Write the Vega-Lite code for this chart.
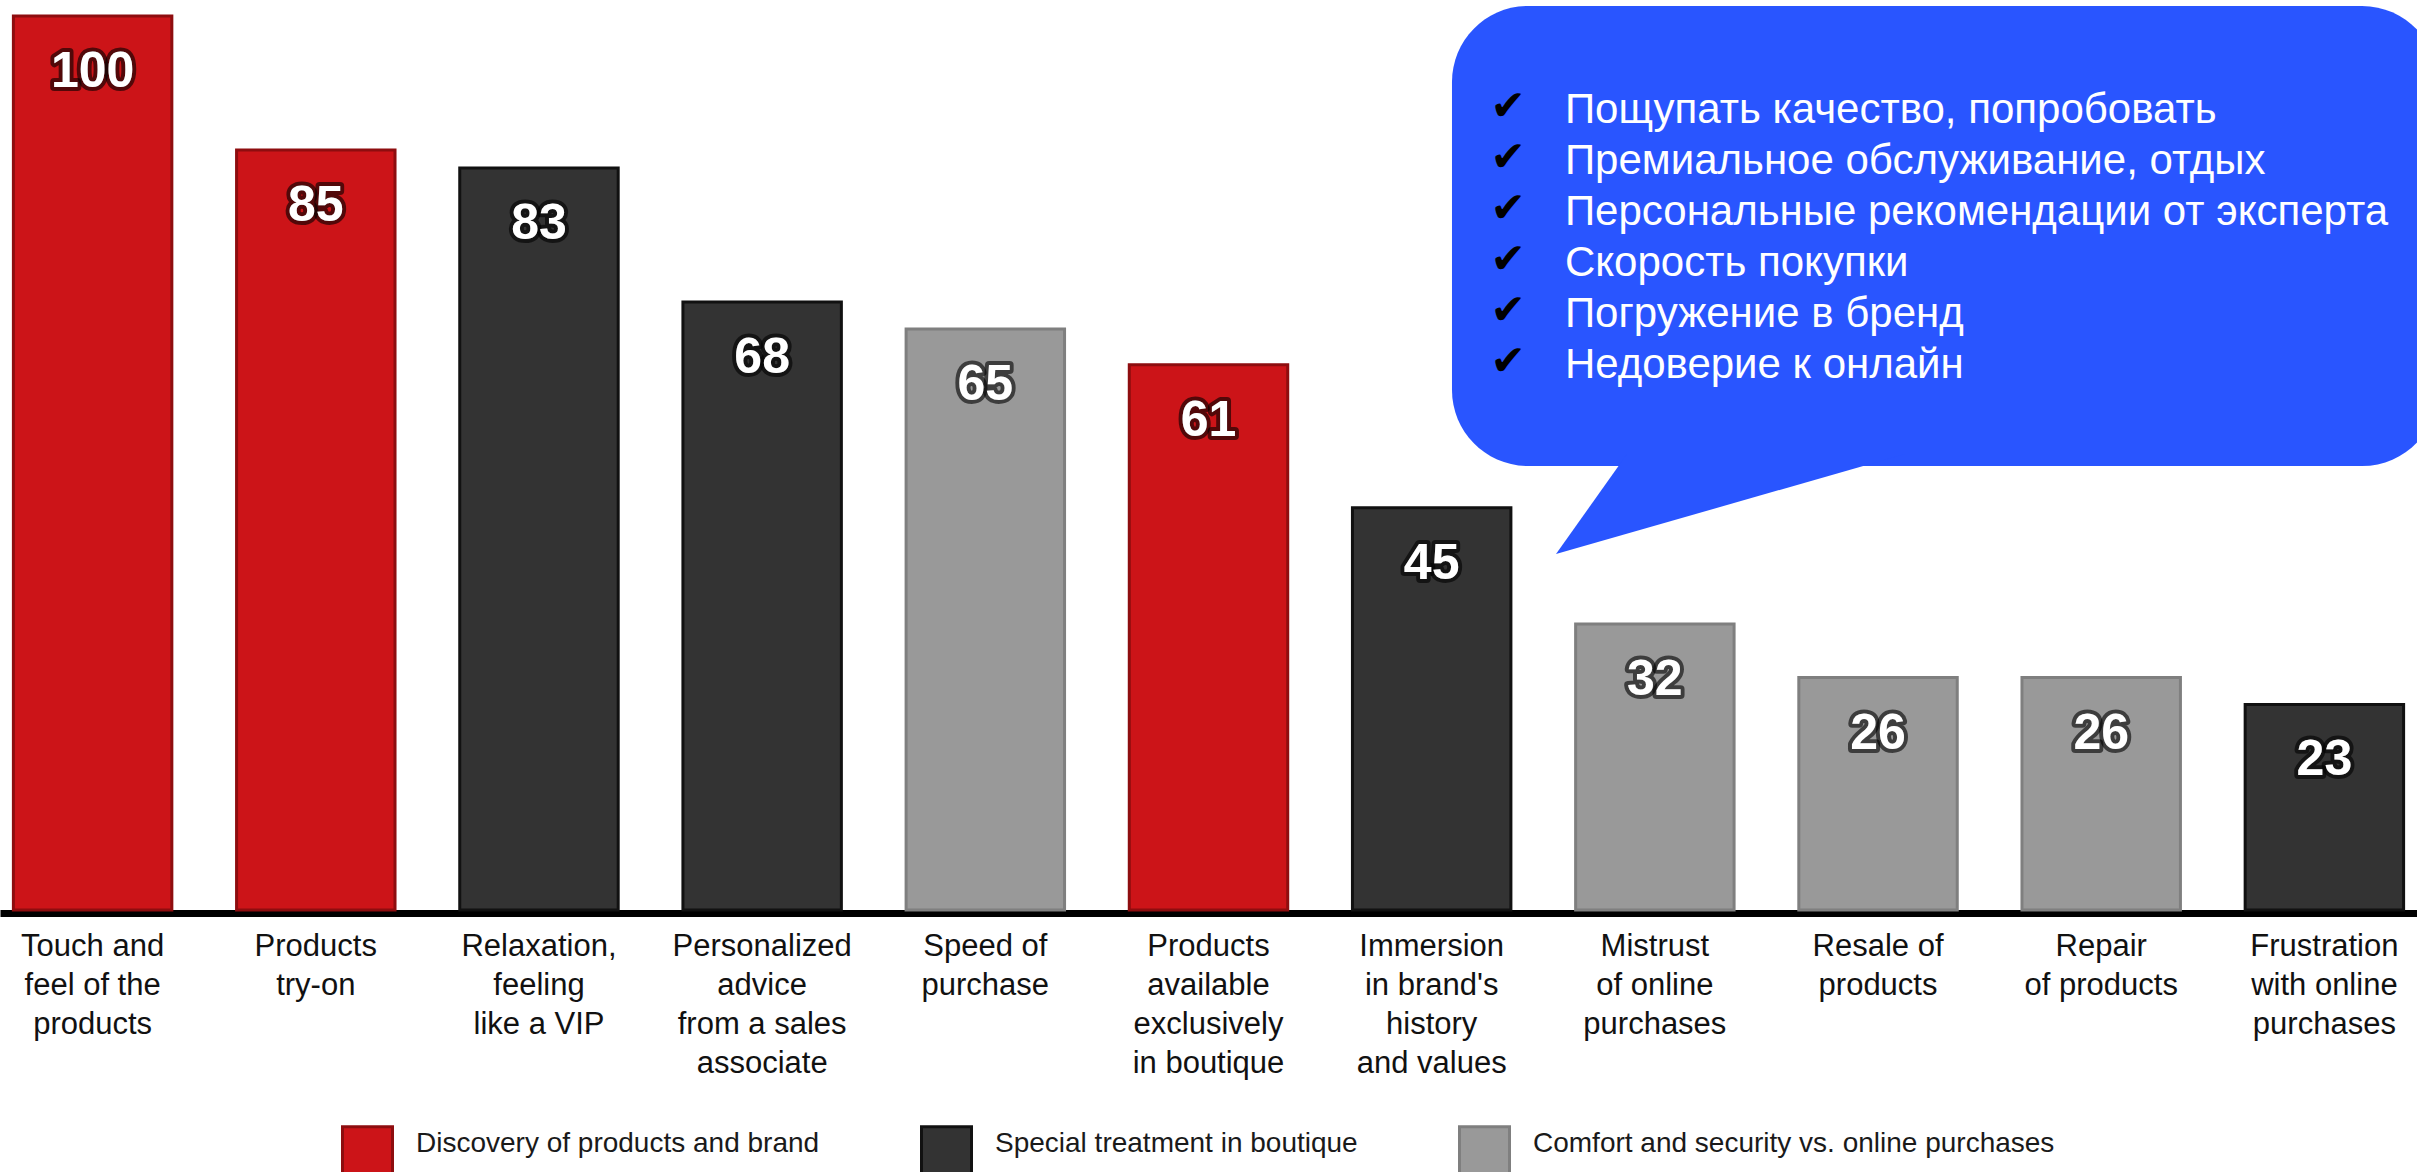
{
  "$schema": "https://vega.github.io/schema/vega-lite/v6.json",
  "width": 2417,
  "height": 894,
  "autosize": "none",
  "padding": {"left": 0, "top": 16, "right": 0, "bottom": 262},
  "background": "white",
  "config": {
    "view": {"stroke": null},
    "legend": {
      "orient": "none",
      "legendX": 341,
      "legendY": 1109,
      "direction": "horizontal",
      "title": null,
      "padding": 0,
      "columnPadding": 95,
      "symbolType": "square",
      "symbolSize": 2500,
      "symbolStrokeWidth": 3,
      "symbolOpacity": 1,
      "labelFont": "Liberation Sans",
      "labelFontSize": 28,
      "labelColor": "#1a1a1a",
      "labelOffset": 22,
      "labelBaseline": "alphabetic",
      "labelLimit": 800
    }
  },
  "datasets": {
    "reasons": [
      {"label": "Touch and\nfeel of the\nproducts", "score": 100, "group": "Discovery of products and brand"},
      {"label": "Products\ntry-on", "score": 85, "group": "Discovery of products and brand"},
      {"label": "Relaxation,\nfeeling\nlike a VIP", "score": 83, "group": "Special treatment in boutique"},
      {"label": "Personalized\nadvice\nfrom a sales\nassociate", "score": 68, "group": "Special treatment in boutique"},
      {"label": "Speed of\npurchase", "score": 65, "group": "Comfort and security vs. online purchases"},
      {"label": "Products\navailable\nexclusively\nin boutique", "score": 61, "group": "Discovery of products and brand"},
      {"label": "Immersion\nin brand's\nhistory\nand values", "score": 45, "group": "Special treatment in boutique"},
      {"label": "Mistrust\nof online\npurchases", "score": 32, "group": "Comfort and security vs. online purchases"},
      {"label": "Resale of\nproducts", "score": 26, "group": "Comfort and security vs. online purchases"},
      {"label": "Repair\nof products", "score": 26, "group": "Comfort and security vs. online purchases"},
      {"label": "Frustration\nwith online\npurchases", "score": 23, "group": "Special treatment in boutique"}
    ],
    "takeaways": [
      {"n": 1, "item": "Пощупать качество, попробовать"},
      {"n": 2, "item": "Премиальное обслуживание, отдых"},
      {"n": 3, "item": "Персональные рекомендации от эксперта"},
      {"n": 4, "item": "Скорость покупки"},
      {"n": 5, "item": "Погружение в бренд"},
      {"n": 6, "item": "Недоверие к онлайн"}
    ]
  },
  "layer": [
    {
      "data": {"name": "reasons"},
      "encoding": {
        "x": {
          "field": "label",
          "type": "nominal",
          "sort": null,
          "scale": {"paddingInner": 0.29, "paddingOuter": 0.06},
          "axis": {
            "title": null,
            "labelExpr": "split(datum.label, '\\n')",
            "labelAngle": 0,
            "labelFont": "Liberation Sans",
            "labelFontSize": 31,
            "labelColor": "#111111",
            "labelLineHeight": 39,
            "labelBaseline": "top",
            "labelPadding": 18,
            "labelLimit": 400,
            "labelOverlap": false,
            "ticks": false,
            "tickSize": 0,
            "domain": true,
            "domainColor": "#000000",
            "domainWidth": 7,
            "offset": 3,
            "grid": false
          }
        },
        "y": {
          "field": "score",
          "type": "quantitative",
          "scale": {"domain": [0, 100], "nice": false},
          "axis": null
        }
      },
      "layer": [
        {
          "mark": {"type": "bar", "strokeWidth": 3},
          "encoding": {
            "fill": {
              "field": "group",
              "type": "nominal",
              "scale": {
                "domain": ["Discovery of products and brand", "Special treatment in boutique", "Comfort and security vs. online purchases"],
                "range": ["#cc1418", "#333333", "#999999"]
              }
            },
            "stroke": {
              "field": "group",
              "type": "nominal",
              "scale": {
                "domain": ["Discovery of products and brand", "Special treatment in boutique", "Comfort and security vs. online purchases"],
                "range": ["#8e0d0f", "#111111", "#7f7f7f"]
              }
            }
          }
        },
        {
          "mark": {
            "type": "text",
            "font": "Liberation Sans",
            "fontWeight": "bold",
            "fontSize": 50,
            "align": "center",
            "baseline": "alphabetic",
            "dy": 71,
            "fill": "#ffffff",
            "stroke": "#000000",
            "strokeWidth": 8,
            "strokeOpacity": 0.6,
            "strokeJoin": "round"
          },
          "encoding": {"text": {"field": "score", "type": "quantitative"}}
        },
        {
          "mark": {
            "type": "text",
            "font": "Liberation Sans",
            "fontWeight": "bold",
            "fontSize": 50,
            "align": "center",
            "baseline": "alphabetic",
            "dy": 71,
            "fill": "#ffffff"
          },
          "encoding": {"text": {"field": "score", "type": "quantitative"}}
        }
      ]
    },
    {
      "data": {"name": "takeaways"},
      "encoding": {
        "y": {
          "field": "n",
          "type": "quantitative",
          "scale": {"domain": [-1.098, 16.43], "reverse": true, "nice": false, "zero": false},
          "axis": null
        }
      },
      "layer": [
        {
          "transform": [{"filter": "datum.n == 1"}],
          "mark": {"type": "rect", "fill": "#2955ff", "cornerRadius": 76},
          "encoding": {
            "x": {"datum": 6.091, "type": "quantitative", "scale": {"domain": [-0.415, 10.415], "nice": false, "zero": false}, "axis": null},
            "x2": {"datum": 10.509},
            "y": {"datum": -1.294, "type": "quantitative"},
            "y2": {"datum": 7.725}
          }
        },
        {
          "transform": [{"filter": "datum.n == 1"}],
          "mark": {
            "type": "point",
            "shape": "M -0.593 -0.287 L 1 -0.287 L -1 0.287 Z",
            "size": 121801,
            "filled": true,
            "fill": "#2955ff",
            "opacity": 1,
            "strokeWidth": 0
          },
          "encoding": {
            "x": {"datum": 7.339, "type": "quantitative"},
            "y": {"datum": 8.47, "type": "quantitative"}
          }
        },
        {
          "mark": {
            "type": "text",
            "font": "DejaVu Sans",
            "fontSize": 42,
            "align": "center",
            "baseline": "alphabetic",
            "dy": -3,
            "fill": "#000000"
          },
          "encoding": {
            "x": {"datum": 6.342, "type": "quantitative"},
            "text": {"value": "✔"}
          }
        },
        {
          "mark": {
            "type": "text",
            "font": "Liberation Sans",
            "fontSize": 42,
            "align": "left",
            "baseline": "alphabetic",
            "fill": "#ffffff"
          },
          "encoding": {
            "x": {"datum": 6.597, "type": "quantitative"},
            "text": {"field": "item", "type": "nominal"}
          }
        }
      ]
    }
  ],
  "resolve": {"scale": {"x": "independent", "y": "independent"}}
}
